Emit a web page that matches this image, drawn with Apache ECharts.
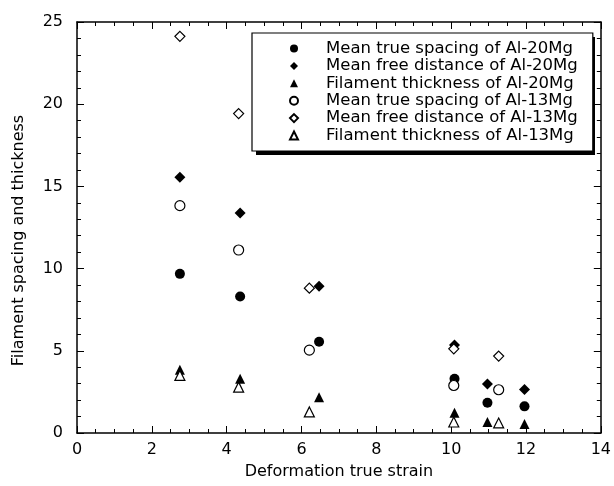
<!DOCTYPE html>
<html>
<head>
<meta charset="utf-8">
<script src="https://cdn.jsdelivr.net/npm/echarts@6/dist/echarts.min.js"></script>
<style>html,body{margin:0;padding:0;background:#fff;}#c{width:614px;height:486px;}</style>
</head>
<body>
<div id="c"></div>
<script>
// Data
const strain20 = [2.75, 4.36, 6.47, 10.09, 10.97, 11.96];
const strain13 = [2.75, 4.32, 6.21, 10.07, 11.27];
const trueSpacing20 = [9.68, 8.30, 5.55, 3.30, 1.84, 1.62];
const freeDist20 = [15.55, 13.38, 8.93, 5.36, 2.98, 2.65];
const thick20 = [3.85, 3.30, 2.17, 1.23, 0.67, 0.55];
const trueSpacing13 = [13.83, 11.13, 5.04, 2.89, 2.63];
const freeDist13 = [24.13, 19.43, 8.81, 5.12, 4.68];
const thick13 = [3.50, 2.79, 1.28, 0.67, 0.61];
const seriesNames = [
  'Mean true spacing of Al-20Mg',
  'Mean free distance of Al-20Mg',
  'Filament thickness of Al-20Mg',
  'Mean true spacing of Al-13Mg',
  'Mean free distance of Al-13Mg',
  'Filament thickness of Al-13Mg'
];
const xTitle = 'Deformation true strain';
const yTitle = 'Filament spacing and thickness';

const FONT = 'DejaVu Sans';
function zip(xs, ys) { return xs.map((x, i) => [x, ys[i]]); }

const specs = [
  { x: strain20, y: trueSpacing20, symbol: 'circle', open: false, size: 10 },
  { x: strain20, y: freeDist20, symbol: 'diamond', open: false, size: 11 },
  { x: strain20, y: thick20, symbol: 'triangle', open: false, size: 10 },
  { x: strain13, y: trueSpacing13, symbol: 'circle', open: true, size: 10 },
  { x: strain13, y: freeDist13, symbol: 'diamond', open: true, size: 10 },
  { x: strain13, y: thick13, symbol: 'triangle', open: true, size: 10 }
];

const series = specs.map((s, i) => ({
  name: seriesNames[i],
  type: 'scatter',
  xAxisIndex: 0,
  yAxisIndex: 0,
  symbol: s.symbol,
  symbolSize: s.size,
  itemStyle: s.open
    ? { color: '#fff', borderColor: '#000', borderWidth: 1.2, opacity: 1 }
    : { color: '#000', borderColor: '#000', borderWidth: 0, opacity: 1 },
  emphasis: { disabled: true },
  data: zip(s.x, s.y)
}));

const lineStyle = { color: '#000', width: 1.5 };
const tickStyle = { color: '#000', width: 1 };

function xAx(pos, showLabel) {
  return {
    type: 'value', position: pos, min: 0, max: 14, interval: 2,
    name: showLabel ? xTitle : '',
    nameLocation: 'middle', nameGap: 31,
    nameTextStyle: { fontFamily: FONT, fontSize: 16, color: '#000' },
    axisLine: { show: true, onZero: false, lineStyle: lineStyle },
    axisTick: { show: true, inside: true, length: 7, lineStyle: tickStyle },
    minorTick: { show: true, splitNumber: 4, length: 4, lineStyle: tickStyle },
    axisLabel: { show: showLabel, margin: 9, fontFamily: FONT, fontSize: 16, color: '#000' },
    splitLine: { show: false }
  };
}
function yAx(pos, showLabel) {
  return {
    type: 'value', position: pos, min: 0, max: 25, interval: 5,
    name: showLabel ? yTitle : '',
    nameLocation: 'middle', nameGap: 50,
    nameTextStyle: { fontFamily: FONT, fontSize: 16, color: '#000', padding: [0, 26, 0, 0] },
    axisLine: { show: true, onZero: false, lineStyle: lineStyle },
    axisTick: { show: true, inside: true, length: 7, lineStyle: tickStyle },
    minorTick: { show: true, splitNumber: 5, length: 4, lineStyle: tickStyle },
    axisLabel: { show: showLabel, margin: 14, fontFamily: FONT, fontSize: 16, color: '#000' },
    splitLine: { show: false }
  };
}

// legend box geometry (layout only)
const LG = { left: 252, top: 33, w: 339, h: 118, shadow: 4 };

const chart = echarts.init(document.getElementById('c'), null, { renderer: 'canvas' });
chart.setOption({
  animation: false,
  backgroundColor: '#fff',
  grid: { left: 77, right: 12, top: 22, bottom: 53 },
  xAxis: [xAx('bottom', true), xAx('top', false)],
  yAxis: [yAx('left', true), yAx('right', false)],
  graphic: [{
    type: 'rect', z: 1, silent: true,
    shape: { x: LG.left + LG.shadow, y: LG.top + LG.shadow, width: LG.w, height: LG.h },
    style: { fill: '#000' }
  }],
  legend: {
    orient: 'vertical',
    left: LG.left, top: LG.top,
    padding: [7, 15, 7, 37],
    itemWidth: 8, itemHeight: 8, itemGap: 0.4,
    backgroundColor: '#fff',
    borderColor: '#000', borderWidth: 1.2,
    selectedMode: false,
    textStyle: { fontFamily: FONT, fontSize: 16.5, lineHeight: 17, color: '#000', padding: [0, 0, 0, 23] },
    data: seriesNames
  },
  series: series
});
</script>
</body>
</html>
